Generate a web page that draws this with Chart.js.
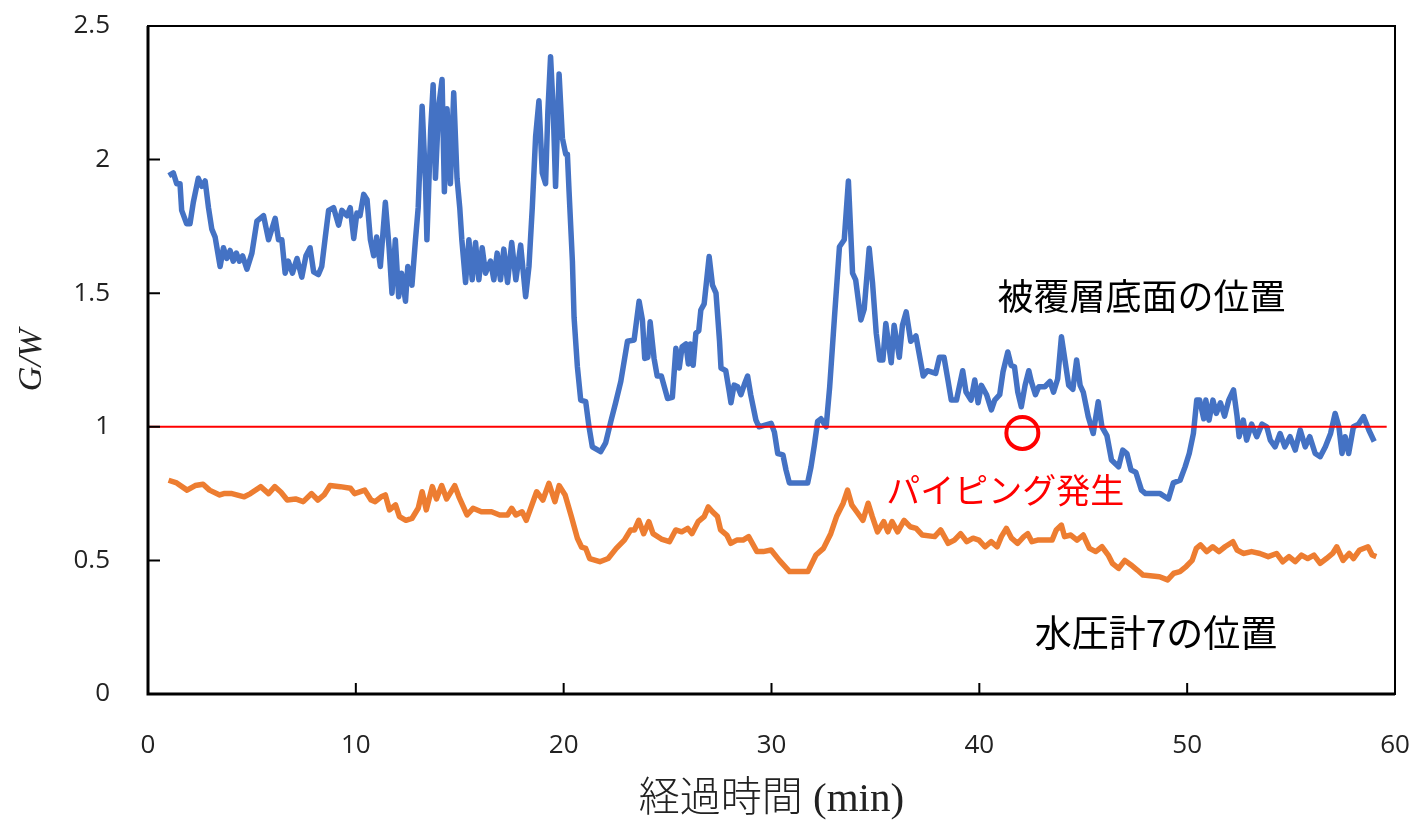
<!DOCTYPE html>
<html>
<head>
<meta charset="utf-8">
<script src="https://cdn.jsdelivr.net/npm/chart.js@4"></script>
<style>
  html, body { margin: 0; padding: 0; background: #fff; }
  #wrap { width: 1422px; height: 836px; }
</style>
</head>
<body>
<div id="wrap"><canvas id="chart"></canvas></div>
<script>
// 被覆層底面の位置 (blue)
const blueT = [1.0,1.22,1.38,1.54,1.62,1.86,2.02,2.18,2.42,2.59,2.75,2.91,3.07,3.23,3.47,3.63,3.79,3.95,4.1,4.25,4.4,4.55,4.76,5.0,5.24,5.56,5.8,6.12,6.28,6.44,6.6,6.75,6.95,7.17,7.4,7.6,7.8,7.97,8.2,8.36,8.53,8.69,8.93,9.17,9.33,9.57,9.73,9.9,10.05,10.2,10.38,10.54,10.7,10.86,11.0,11.18,11.42,11.6,11.74,11.9,12.06,12.2,12.39,12.5,12.7,12.87,13.0,13.19,13.35,13.42,13.6,13.72,13.83,13.99,14.15,14.26,14.39,14.55,14.71,14.87,15.0,15.1,15.28,15.44,15.6,15.76,15.92,16.08,16.24,16.48,16.64,16.8,16.96,17.12,17.3,17.5,17.7,17.93,18.17,18.33,18.49,18.65,18.81,18.97,19.13,19.24,19.37,19.5,19.61,19.78,19.94,20.1,20.18,20.26,20.42,20.5,20.66,20.82,21.06,21.22,21.38,21.78,22.02,22.27,22.5,22.75,23.07,23.39,23.63,23.79,23.9,24.05,24.16,24.35,24.5,24.7,25.0,25.23,25.4,25.56,25.7,25.88,26.0,26.1,26.23,26.36,26.5,26.6,26.76,27.0,27.16,27.33,27.5,27.57,27.8,27.97,28.05,28.2,28.37,28.53,28.7,28.85,29.0,29.25,29.4,29.98,30.14,30.3,30.55,30.7,30.86,31.58,31.74,31.9,32.06,32.22,32.38,32.63,32.8,33.03,33.27,33.5,33.7,33.9,34.05,34.3,34.46,34.7,34.86,35.04,35.2,35.36,35.5,35.76,35.9,36.15,36.3,36.48,36.7,36.95,37.3,37.5,37.9,38.08,38.3,38.5,38.65,38.9,39.2,39.36,39.6,39.78,39.94,40.1,40.35,40.58,40.74,40.98,41.14,41.37,41.53,41.69,41.85,42.02,42.2,42.38,42.5,42.7,42.86,43.15,43.4,43.57,43.77,43.95,44.1,44.3,44.5,44.68,44.85,45.0,45.24,45.48,45.72,45.9,46.14,46.36,46.7,46.9,47.1,47.3,47.53,47.8,48.0,48.7,49.1,49.33,49.66,49.9,50.1,50.3,50.46,50.6,50.8,50.9,51.05,51.24,51.4,51.6,51.8,52.0,52.23,52.4,52.5,52.7,52.86,53.1,53.35,53.6,53.83,54.0,54.23,54.47,54.7,54.95,55.2,55.44,55.68,55.9,56.16,56.4,56.65,56.9,57.12,57.3,57.45,57.6,57.77,58.0,58.25,58.49,58.74,59.0];
const blueV = [1.94,1.95,1.91,1.91,1.81,1.76,1.76,1.84,1.93,1.90,1.92,1.82,1.74,1.71,1.60,1.67,1.63,1.66,1.62,1.65,1.62,1.64,1.59,1.65,1.77,1.79,1.70,1.78,1.70,1.70,1.575,1.62,1.575,1.63,1.56,1.64,1.67,1.58,1.57,1.60,1.71,1.81,1.82,1.755,1.81,1.79,1.82,1.705,1.80,1.79,1.87,1.85,1.70,1.64,1.71,1.60,1.84,1.67,1.50,1.70,1.487,1.575,1.47,1.60,1.53,1.70,1.82,2.20,1.92,1.70,2.11,2.28,1.93,2.20,2.30,1.88,2.19,1.91,2.25,1.93,1.82,1.70,1.54,1.70,1.55,1.69,1.55,1.67,1.575,1.62,1.55,1.65,1.55,1.665,1.54,1.69,1.55,1.68,1.487,1.60,1.82,2.086,2.22,1.95,1.91,2.18,2.385,2.18,1.90,2.32,2.08,2.02,2.02,1.88,1.62,1.41,1.225,1.10,1.094,1.00,0.925,0.907,0.94,1.02,1.09,1.17,1.32,1.325,1.47,1.40,1.256,1.26,1.393,1.256,1.19,1.19,1.106,1.11,1.294,1.22,1.30,1.31,1.235,1.31,1.23,1.35,1.36,1.437,1.46,1.637,1.53,1.50,1.32,1.22,1.21,1.13,1.09,1.156,1.15,1.12,1.16,1.19,1.12,1.025,1.00,1.013,0.98,0.90,0.895,0.838,0.79,0.79,0.79,0.85,0.93,1.02,1.03,1.00,1.15,1.41,1.674,1.70,1.92,1.575,1.55,1.40,1.44,1.668,1.54,1.35,1.25,1.25,1.387,1.24,1.38,1.26,1.38,1.43,1.32,1.34,1.19,1.21,1.20,1.26,1.26,1.17,1.10,1.10,1.21,1.13,1.10,1.175,1.09,1.155,1.12,1.063,1.10,1.12,1.206,1.28,1.23,1.225,1.13,1.075,1.155,1.21,1.17,1.12,1.15,1.15,1.17,1.13,1.18,1.337,1.26,1.155,1.14,1.25,1.155,1.13,1.038,0.975,1.094,1.0,0.967,0.876,0.85,0.913,0.90,0.838,0.83,0.763,0.75,0.75,0.73,0.79,0.80,0.85,0.90,0.975,1.10,1.10,1.03,1.10,1.025,1.10,1.05,1.09,1.04,1.10,1.138,1.04,0.963,1.025,0.95,1.01,0.963,1.01,1.0,0.95,0.925,0.975,0.925,0.963,0.913,0.988,0.925,0.963,0.90,0.888,0.925,0.975,1.05,1.0,0.90,0.963,0.90,1.0,1.01,1.038,0.988,0.945];

// 水圧計7の位置 (orange)
const orangeT = [0.99,1.38,1.88,2.27,2.65,2.96,3.45,3.65,4.04,4.63,4.93,5.42,5.8,6.1,6.4,6.7,7.1,7.47,7.87,8.17,8.47,8.76,9.25,9.74,9.94,10.43,10.73,10.93,11.22,11.42,11.62,11.91,12.1,12.41,12.7,13.0,13.19,13.39,13.68,13.88,14.13,14.37,14.76,14.96,15.35,15.64,16.04,16.53,16.92,17.3,17.5,17.7,18.0,18.2,18.5,18.7,19.0,19.29,19.58,19.78,20.07,20.37,20.66,20.86,21.06,21.25,21.74,22.14,22.53,22.92,23.22,23.41,23.61,23.85,24.1,24.3,24.7,25.09,25.39,25.68,25.97,26.17,26.47,26.76,26.96,27.16,27.4,27.55,27.85,28.04,28.33,28.63,28.9,29.3,29.6,29.98,30.38,30.87,31.75,32.14,32.5,32.85,33.13,33.45,33.66,33.86,34.1,34.4,34.65,34.85,35.1,35.4,35.6,35.8,36.07,36.38,36.67,36.96,37.26,37.85,38.14,38.5,38.8,39.1,39.4,39.7,39.98,40.27,40.57,40.86,41.06,41.3,41.55,41.84,42.14,42.33,42.53,42.8,43.2,43.5,43.7,43.95,44.1,44.4,44.7,45.0,45.3,45.6,45.9,46.2,46.4,46.7,47.0,47.3,47.6,47.88,48.67,49.06,49.36,49.65,49.95,50.24,50.44,50.64,50.94,51.23,51.53,51.82,52.2,52.4,52.7,53.1,53.5,53.9,54.3,54.6,54.9,55.2,55.5,55.8,56.1,56.4,56.7,57.0,57.2,57.5,57.8,58.0,58.3,58.7,58.9,59.1];
const orangeV = [0.80,0.79,0.763,0.78,0.785,0.763,0.745,0.75,0.75,0.738,0.75,0.776,0.75,0.776,0.755,0.726,0.73,0.72,0.75,0.726,0.745,0.78,0.776,0.77,0.75,0.763,0.726,0.72,0.738,0.745,0.689,0.708,0.664,0.65,0.657,0.695,0.757,0.689,0.776,0.73,0.78,0.73,0.78,0.738,0.67,0.695,0.682,0.682,0.67,0.67,0.695,0.67,0.682,0.65,0.714,0.757,0.726,0.788,0.72,0.78,0.745,0.664,0.583,0.55,0.545,0.507,0.495,0.507,0.545,0.576,0.614,0.614,0.65,0.60,0.645,0.60,0.58,0.57,0.614,0.607,0.62,0.60,0.645,0.664,0.70,0.682,0.664,0.614,0.595,0.564,0.576,0.576,0.589,0.533,0.533,0.539,0.50,0.458,0.458,0.52,0.545,0.60,0.664,0.714,0.763,0.708,0.682,0.65,0.714,0.664,0.607,0.645,0.607,0.645,0.607,0.65,0.626,0.62,0.595,0.589,0.614,0.564,0.576,0.60,0.57,0.583,0.576,0.551,0.57,0.551,0.589,0.62,0.583,0.564,0.589,0.60,0.57,0.576,0.576,0.576,0.614,0.632,0.589,0.595,0.576,0.595,0.545,0.533,0.551,0.52,0.489,0.47,0.50,0.483,0.464,0.445,0.439,0.427,0.452,0.458,0.477,0.50,0.545,0.558,0.533,0.551,0.533,0.551,0.57,0.539,0.526,0.533,0.526,0.514,0.526,0.495,0.514,0.495,0.52,0.507,0.52,0.489,0.507,0.526,0.551,0.50,0.526,0.507,0.539,0.551,0.52,0.514];

// G/W = 1 reference line
const refT = [0, 59.6];
const refV = [1, 1];

const xTicks = [0, 10, 20, 30, 40, 50, 60];
const yTicks = [0, 0.5, 1, 1.5, 2, 2.5];

// annotation texts (data coordinates)
const labels = [
  { text: '被覆層底面の位置', t: 47.8, v: 1.49, color: '#000', size: 36 },
  { text: '水圧計7の位置', t: 48.5, v: 0.228, color: '#000', size: 37 },
  { text: 'パイピング発生', t: 41.25, v: 0.765, color: '#ff0000', size: 34 }
];
const pipingT = 42.07, pipingV = 0.977;

function pts(ts, vs) {
  return ts.map((t, i) => ({ x: t, y: vs[i] }));
}

const framePlugin = {
  id: 'frame',
  afterDatasetsDraw(chart) {
    const { ctx, chartArea: a, scales: { x, y } } = chart;
    ctx.save();
    // piping circle
    ctx.strokeStyle = '#ff0000';
    ctx.lineWidth = 4;
    ctx.beginPath();
    ctx.arc(x.getPixelForValue(pipingT), y.getPixelForValue(pipingV), 16, 0, Math.PI * 2);
    ctx.stroke();

    // texts
    ctx.textAlign = 'center';
    ctx.textBaseline = 'middle';
    labels.forEach(l => {
      ctx.font = l.size + 'px "Noto Sans CJK JP"';
      ctx.fillStyle = l.color;
      ctx.fillText(l.text, x.getPixelForValue(l.t), y.getPixelForValue(l.v));
    });

    // frame
    ctx.strokeStyle = '#000';
    ctx.lineWidth = 2;
    ctx.strokeRect(a.left, a.top, a.right - a.left, a.bottom - a.top);
    ctx.lineWidth = 3;
    ctx.beginPath();
    ctx.moveTo(a.left, a.top);
    ctx.lineTo(a.left, a.bottom);
    ctx.lineTo(a.right, a.bottom);
    ctx.stroke();

    // inward ticks
    ctx.lineWidth = 2;
    ctx.beginPath();
    yTicks.forEach(v => {
      const py = y.getPixelForValue(v);
      ctx.moveTo(a.left, py);
      ctx.lineTo(a.left + 12, py);
    });
    xTicks.forEach(t => {
      const px = x.getPixelForValue(t);
      ctx.moveTo(px, a.bottom);
      ctx.lineTo(px, a.bottom - 11);
    });
    ctx.stroke();
    ctx.restore();
  }
};

new Chart(document.getElementById('chart'), {
  type: 'line',
  data: {
    datasets: [
      {
        label: 'G/W=1',
        data: pts(refT, refV),
        borderColor: '#ff0000',
        borderWidth: 2,
        pointRadius: 0,
        order: 0
      },
      {
        label: '被覆層底面の位置',
        data: pts(blueT, blueV),
        borderColor: '#4472C4',
        borderWidth: 5.5,
        borderJoinStyle: 'round',
        pointRadius: 0,
        order: 1
      },
      {
        label: '水圧計7の位置',
        data: pts(orangeT, orangeV),
        borderColor: '#ED7D31',
        borderWidth: 5.5,
        borderJoinStyle: 'round',
        pointRadius: 0,
        order: 2
      }
    ]
  },
  options: {
    responsive: true,
    maintainAspectRatio: false,
    animation: false,
    layout: { padding: { top: 26, right: 27, left: 0, bottom: 0 } },
    plugins: {
      legend: { display: false },
      tooltip: { enabled: false }
    },
    scales: {
      x: {
        type: 'linear',
        min: 0,
        max: 60,
        afterBuildTicks(s) { s.ticks = xTicks.map(v => ({ value: v })); },
        afterFit(s) { s.height = 142; s.paddingLeft = 0; s.paddingRight = 0; },
        grid: { display: false, drawTicks: false },
        border: { display: false },
        ticks: {
          padding: 36,
          color: '#222',
          font: { family: '"Open Sans"', size: 26 },
          callback: v => String(v)
        },
        title: {
          display: true,
          text: '経過時間 (min)',
          color: '#222',
          font: { family: '"Liberation Serif", "Noto Sans CJK JP"', size: 41, weight: 300 },
          padding: { top: 0, bottom: 11 }
        }
      },
      y: {
        min: 0,
        max: 2.5,
        afterBuildTicks(s) { s.ticks = yTicks.map(v => ({ value: v })); },
        afterFit(s) { s.width = 148; s.paddingTop = 0; s.paddingBottom = 0; },
        grid: { display: false, drawTicks: false },
        border: { display: false },
        ticks: {
          padding: 38,
          color: '#222',
          font: { family: '"Open Sans"', size: 26 },
          callback: v => String(v)
        },
        title: {
          display: true,
          text: 'G/W',
          color: '#222',
          font: { family: '"Liberation Serif"', size: 34, style: 'italic' },
          padding: { top: 12, bottom: 0 }
        }
      }
    }
  },
  plugins: [framePlugin]
});
</script>
</body>
</html>
